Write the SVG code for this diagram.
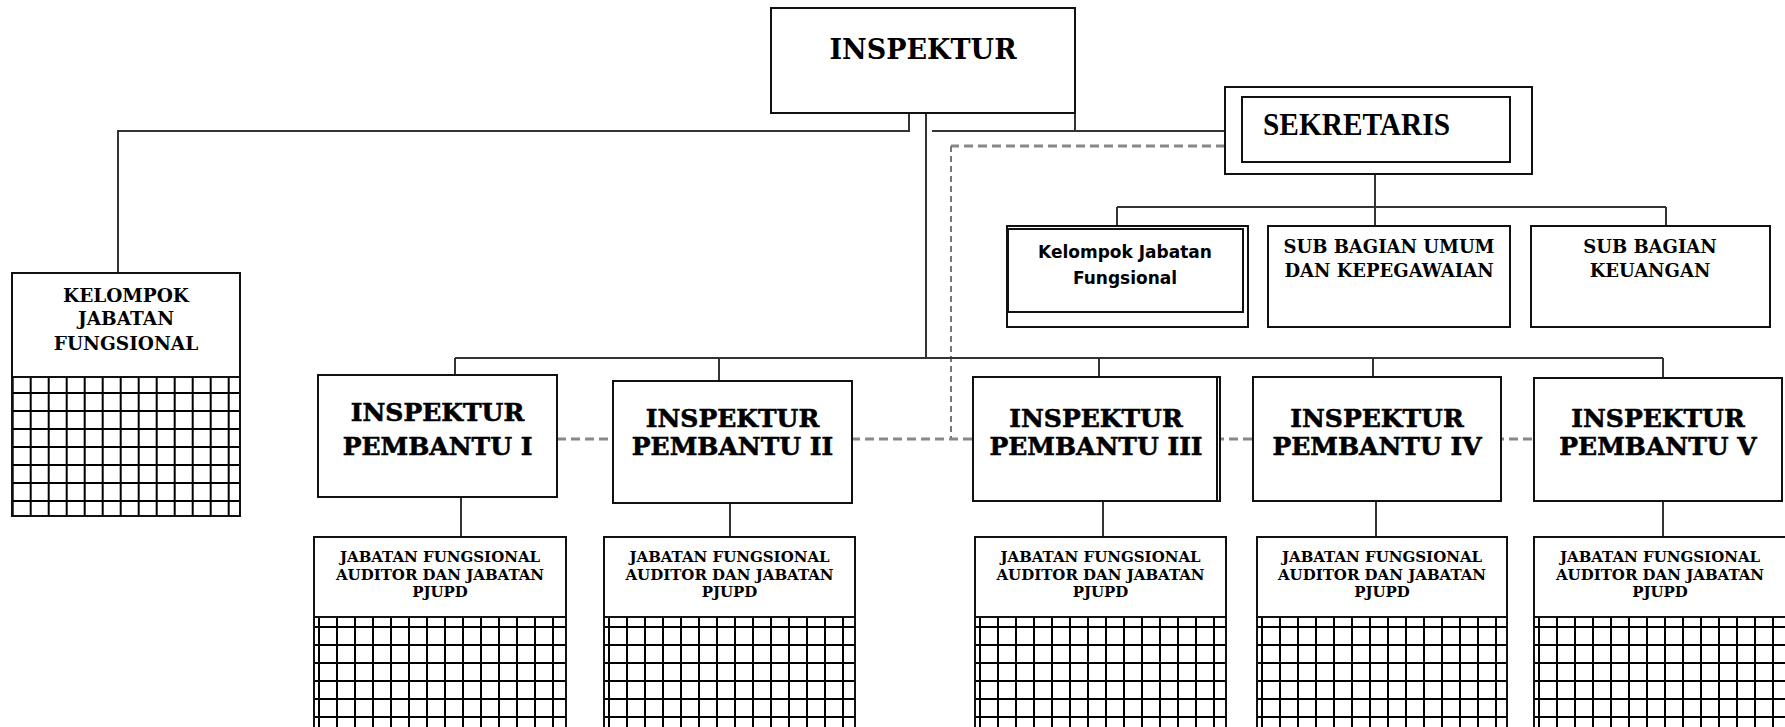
<svg xmlns="http://www.w3.org/2000/svg" width="1785" height="727" viewBox="0 0 1785 727">
<style>
.bg{fill:#fff}
.box{fill:#fff;stroke:#111;stroke-width:2}
.frame{fill:none;stroke:#111;stroke-width:2}
.conn{fill:none;stroke:#333;stroke-width:2}
.dash{fill:none;stroke:#888;stroke-width:3;stroke-dasharray:9 5}
.dashv{fill:none;stroke:#777;stroke-width:2;stroke-dasharray:6 4}
.tm{font-family:"DejaVu Serif","Liberation Serif",serif;font-weight:bold;fill:#000;text-anchor:middle;stroke:#000;stroke-width:0.6}
.tslab{font-family:"DejaVu Serif","Liberation Serif",serif;font-weight:bold;fill:#000;text-anchor:middle}
.tsans{font-family:"DejaVu Sans","Liberation Sans",sans-serif;font-weight:bold;fill:#000;text-anchor:middle;font-size:17px}
.ttimes{font-family:"Liberation Serif","Times New Roman",serif;font-weight:bold;fill:#000}
</style>
<defs>
<pattern id="gridA" patternUnits="userSpaceOnUse" width="18" height="18" x="-4" y="-9"><path d="M9 0V18M0 9H18" stroke="#000" stroke-width="2" fill="none"/></pattern>
<pattern id="gridB" patternUnits="userSpaceOnUse" width="18" height="18" x="-8.3" y="3"><path d="M9 0V18M0 9H18" stroke="#000" stroke-width="2" fill="none"/></pattern>
</defs>
<rect class="bg" x="0" y="0" width="1785" height="727"/>

<g id="connectors">
  <path class="conn" d="M909 113V131H118V273"/>
  <path class="conn" d="M926 113V358"/>
  <path class="conn" d="M1075 113V131M932 131H1225"/>
  <path class="dash" d="M1225 146H951"/>
  <path class="dashv" d="M951 146V439"/>
  <path class="dash" d="M557 439H1534"/>
  <path class="conn" d="M1375 174V207M1117 207H1666M1117 207V226M1375 207V226M1666 207V226"/>
  <path class="conn" d="M455 358H1663M455 358V375M719 358V381M1099 358V377M1373 358V377M1663 358V378"/>
  <path class="conn" d="M461 497V537M730 503V537M1103 501V537M1376 501V537M1663 501V537"/>
</g>

<g id="inspektur">
  <rect class="box" x="771" y="8" width="304" height="105"/>
  <text class="tslab" x="923" y="59" font-size="27">INSPEKTUR</text>
</g>

<g id="sekretaris">
  <rect class="box" x="1225" y="87" width="307" height="87"/>
  <rect class="frame" x="1242" y="97" width="268" height="65"/>
  <text class="ttimes" x="1263" y="135" font-size="31" textLength="187" lengthAdjust="spacingAndGlyphs">SEKRETARIS</text>
</g>

<g id="kelompok-sek">
  <rect class="box" x="1007" y="226" width="241" height="101"/>
  <rect class="frame" x="1008" y="229" width="235" height="83"/>
  <text class="tsans" x="1125" y="258">Kelompok Jabatan</text>
  <text class="tsans" x="1125" y="284">Fungsional</text>
</g>

<g id="subbag-umum">
  <rect class="box" x="1268" y="226" width="242" height="101"/>
  <text class="tslab" x="1389" y="253" font-size="18">SUB BAGIAN UMUM</text>
  <text class="tslab" x="1389" y="277" font-size="18">DAN KEPEGAWAIAN</text>
</g>

<g id="subbag-keuangan">
  <rect class="box" x="1531" y="226" width="239" height="101"/>
  <text class="tslab" x="1650" y="253" font-size="18">SUB BAGIAN</text>
  <text class="tslab" x="1650" y="277" font-size="18">KEUANGAN</text>
</g>

<g id="kelompok-kiri" transform="translate(12,273)">
  <rect class="box" x="0" y="0" width="228" height="243"/>
  <rect x="0" y="104" width="228" height="139" fill="url(#gridB)"/>
  <path class="frame" d="M0 104H228"/>
  <rect class="frame" x="0" y="0" width="228" height="243"/>
  <text class="tslab" x="114" y="29" font-size="18.5">KELOMPOK</text>
  <text class="tslab" x="114" y="52" font-size="18.5">JABATAN</text>
  <text class="tslab" x="114" y="77" font-size="18.5">FUNGSIONAL</text>
</g>

<g id="pembantu-1">
  <rect class="box" x="318" y="375" width="239" height="122"/>
  <text class="tm" x="437.5" y="421" font-size="25">INSPEKTUR</text>
  <text class="tm" x="437.5" y="455" font-size="25">PEMBANTU I</text>
</g>
<g id="pembantu-2">
  <rect class="box" x="613" y="381" width="239" height="122"/>
  <text class="tm" x="732.5" y="427" font-size="25">INSPEKTUR</text>
  <text class="tm" x="732.5" y="455" font-size="25">PEMBANTU II</text>
</g>
<g id="pembantu-3">
  <rect class="box" x="973" y="377" width="247" height="124"/>
  <path class="frame" d="M1217 377V501" stroke-width="2"/>
  <text class="tm" x="1096" y="427" font-size="25">INSPEKTUR</text>
  <text class="tm" x="1096" y="455" font-size="25">PEMBANTU III</text>
</g>
<g id="pembantu-4">
  <rect class="box" x="1253" y="377" width="248" height="124"/>
  <text class="tm" x="1377" y="427" font-size="25">INSPEKTUR</text>
  <text class="tm" x="1377" y="455" font-size="25">PEMBANTU IV</text>
</g>
<g id="pembantu-5">
  <rect class="box" x="1534" y="378" width="248" height="123"/>
  <text class="tm" x="1658" y="427" font-size="25">INSPEKTUR</text>
  <text class="tm" x="1658" y="455" font-size="25">PEMBANTU V</text>
</g>

<g id="jabatan-1" transform="translate(314,537)">
  <rect class="box" x="0" y="0" width="252" height="200"/>
  <rect x="0" y="80" width="252" height="120" fill="url(#gridA)"/>
  <path class="frame" d="M0 80H252"/>
  <rect class="frame" x="0" y="0" width="252" height="200"/>
  <text class="tslab" x="126" y="25" font-size="15">JABATAN FUNGSIONAL</text>
  <text class="tslab" x="126" y="43" font-size="15">AUDITOR DAN JABATAN</text>
  <text class="tslab" x="126" y="60" font-size="15">PJUPD</text>
</g>
<g id="jabatan-2" transform="translate(604,537)">
  <rect class="box" x="0" y="0" width="251" height="200"/>
  <rect x="0" y="80" width="251" height="120" fill="url(#gridA)"/>
  <path class="frame" d="M0 80H251"/>
  <rect class="frame" x="0" y="0" width="251" height="200"/>
  <text class="tslab" x="125.5" y="25" font-size="15">JABATAN FUNGSIONAL</text>
  <text class="tslab" x="125.5" y="43" font-size="15">AUDITOR DAN JABATAN</text>
  <text class="tslab" x="125.5" y="60" font-size="15">PJUPD</text>
</g>
<g id="jabatan-3" transform="translate(975,537)">
  <rect class="box" x="0" y="0" width="251" height="200"/>
  <rect x="0" y="80" width="251" height="120" fill="url(#gridA)"/>
  <path class="frame" d="M0 80H251"/>
  <rect class="frame" x="0" y="0" width="251" height="200"/>
  <text class="tslab" x="125.5" y="25" font-size="15">JABATAN FUNGSIONAL</text>
  <text class="tslab" x="125.5" y="43" font-size="15">AUDITOR DAN JABATAN</text>
  <text class="tslab" x="125.5" y="60" font-size="15">PJUPD</text>
</g>
<g id="jabatan-4" transform="translate(1257,537)">
  <rect class="box" x="0" y="0" width="250" height="200"/>
  <rect x="0" y="80" width="250" height="120" fill="url(#gridA)"/>
  <path class="frame" d="M0 80H250"/>
  <rect class="frame" x="0" y="0" width="250" height="200"/>
  <text class="tslab" x="125" y="25" font-size="15">JABATAN FUNGSIONAL</text>
  <text class="tslab" x="125" y="43" font-size="15">AUDITOR DAN JABATAN</text>
  <text class="tslab" x="125" y="60" font-size="15">PJUPD</text>
</g>
<g id="jabatan-5" transform="translate(1534,537)">
  <rect class="box" x="0" y="0" width="254" height="200"/>
  <rect x="0" y="80" width="254" height="120" fill="url(#gridA)"/>
  <path class="frame" d="M0 80H254"/>
  <rect class="frame" x="0" y="0" width="254" height="200"/>
  <text class="tslab" x="126" y="25" font-size="15">JABATAN FUNGSIONAL</text>
  <text class="tslab" x="126" y="43" font-size="15">AUDITOR DAN JABATAN</text>
  <text class="tslab" x="126" y="60" font-size="15">PJUPD</text>
</g>
</svg>
